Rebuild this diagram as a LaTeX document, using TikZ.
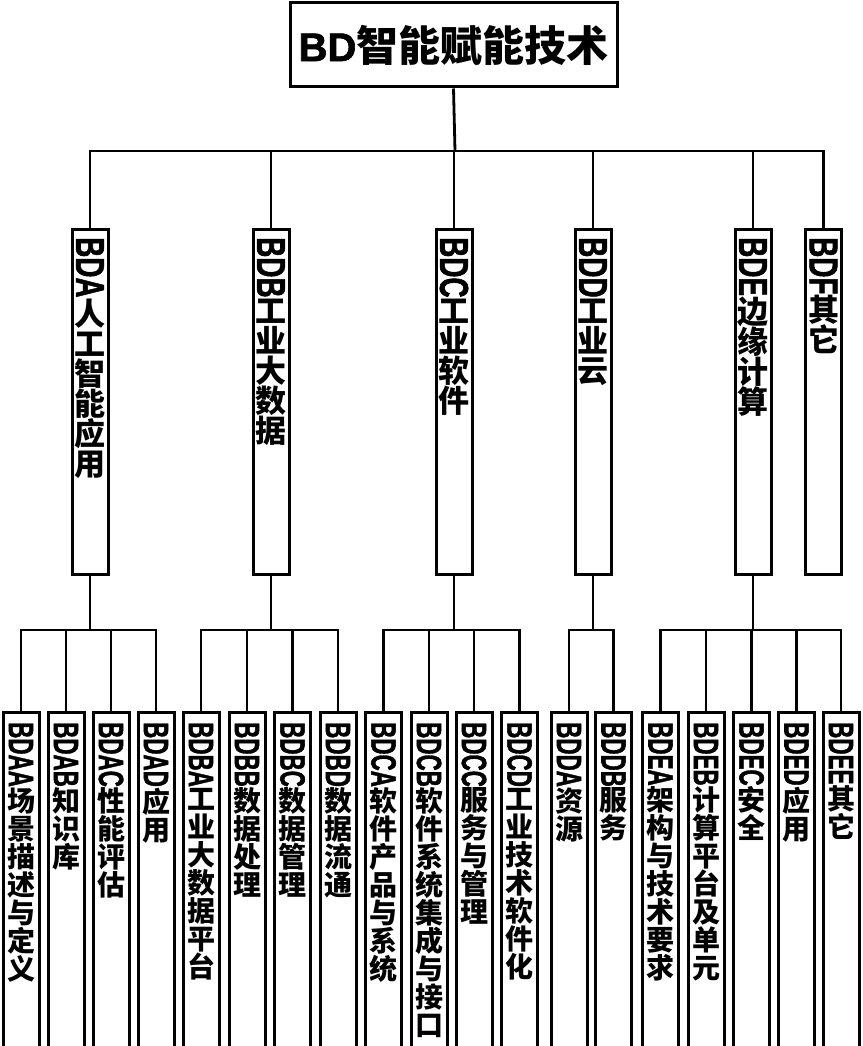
\documentclass[tikz,border=0pt]{standalone}
\usepackage{fontspec}
\setmainfont{Liberation Sans}[BoldFeatures={FakeBold=1.6}]
\newfontfamily\cjkfont{Noto Sans CJK SC}
\usepackage{graphicx}
\usetikzlibrary{positioning}
\tikzset{
  topbox/.style={
    draw, line width=3pt, minimum width=327pt, minimum height=84pt,
    inner sep=0pt, font=\cjkfont\bfseries\fontsize{42}{42}\selectfont
  },
  mainbox/.style={
    draw, line width=3pt, anchor=north, fill=white,
    minimum width=36pt, minimum height=345pt, inner sep=0pt
  },
  subbox/.style={
    draw, line width=3pt, anchor=north, fill=white,
    minimum width=36pt, minimum height=350pt, inner sep=0pt
  },
  mainlabel/.style={
    align=center, inner sep=0pt,
    font=\cjkfont\bfseries\fontsize{31}{30}\selectfont
  },
  sublabel/.style={
    align=center, inner sep=0pt,
    font=\cjkfont\bfseries\fontsize{28}{28}\selectfont
  },
  branch/.style={line width=2.8pt},
}
% vertical labels: latin code turned, chinese stacked upright
\newcommand\mainlab[2]{\rotatebox{-90}{\scalebox{0.9}[1.3]{\rmfamily\bfseries #1}}\\#2}
\newcommand\sublab[2]{\rotatebox{-90}{\scalebox{0.8}[1.25]{\rmfamily\bfseries #1}}\\#2}

\begin{document}
\begin{tikzpicture}[x=1pt, y=-1pt]
  \useasboundingbox (0,0) rectangle (862,1046);
  \clip (0,0) rectangle (862,1046);

  % Root
  \node[topbox] (title) at (453.5,45)
    {{\rmfamily\fontsize{40}{40}\selectfont BD}智能赋能技术};

  % Second level
  \node[mainbox] (bda) at (90,228) {};
  \node[mainbox] (bdb) at (271,228) {};
  \node[mainbox] (bdc) at (454,228) {};
  \node[mainbox] (bdd) at (593,228) {};
  \node[mainbox] (bde) at (753,228) {};
  \node[mainbox] (bdf) at (823.5,228) {};

  \node[mainlabel, below=9pt of bda.north] (bdatext)
    {\mainlab{BDA}{人\\工\\智\\能\\应\\用}};
  \node[mainlabel, below=9pt of bdb.north] (bdbtext)
    {\mainlab{BDB}{工\\业\\大\\数\\据}};
  \node[mainlabel, below=9pt of bdc.north] (bdctext)
    {\mainlab{BDC}{工\\业\\软\\件}};
  \node[mainlabel, below=9pt of bdd.north] (bddtext)
    {\mainlab{BDD}{工\\业\\云}};
  \node[mainlabel, below=9pt of bde.north] (bdetext)
    {\mainlab{BDE}{边\\缘\\计\\算}};
  \node[mainlabel, below=9pt of bdf.north] (bdftext)
    {\mainlab{BDF}{其\\它}};

  % Third level
  \node[subbox] (bdaa) at (21,711) {};
  \node[subbox] (bdab) at (66,711) {};
  \node[subbox] (bdac) at (111,711) {};
  \node[subbox] (bdad) at (156,711) {};
  \node[subbox] (bdba) at (201,711) {};
  \node[subbox] (bdbb) at (247,711) {};
  \node[subbox] (bdbc) at (292.5,711) {};
  \node[subbox] (bdbd) at (338,711) {};
  \node[subbox] (bdca) at (383.5,711) {};
  \node[subbox] (bdcb) at (429,711) {};
  \node[subbox] (bdcc) at (474,711) {};
  \node[subbox] (bdcd) at (519.5,711) {};
  \node[subbox] (bdda) at (569,711) {};
  \node[subbox] (bddb) at (613.5,711) {};
  \node[subbox] (bdea) at (660.5,711) {};
  \node[subbox] (bdeb) at (706,711) {};
  \node[subbox] (bdec) at (751.5,711) {};
  \node[subbox] (bded) at (796.5,711) {};
  \node[subbox] (bdee) at (841,711) {};

  \node[sublabel, below=11pt of bdaa.north] (bdaatext)
    {\sublab{BDAA}{场\\景\\描\\述\\与\\定\\义}};
  \node[sublabel, below=11pt of bdab.north] (bdabtext)
    {\sublab{BDAB}{知\\识\\库}};
  \node[sublabel, below=11pt of bdac.north] (bdactext)
    {\sublab{BDAC}{性\\能\\评\\估}};
  \node[sublabel, below=11pt of bdad.north] (bdadtext)
    {\sublab{BDAD}{应\\用}};
  \node[sublabel, below=11pt of bdba.north] (bdbatext)
    {\sublab{BDBA}{工\\业\\大\\数\\据\\平\\台}};
  \node[sublabel, below=11pt of bdbb.north] (bdbbtext)
    {\sublab{BDBB}{数\\据\\处\\理}};
  \node[sublabel, below=11pt of bdbc.north] (bdbctext)
    {\sublab{BDBC}{数\\据\\管\\理}};
  \node[sublabel, below=11pt of bdbd.north] (bdbdtext)
    {\sublab{BDBD}{数\\据\\流\\通}};
  \node[sublabel, below=11pt of bdca.north] (bdcatext)
    {\sublab{BDCA}{软\\件\\产\\品\\与\\系\\统}};
  \node[sublabel, below=11pt of bdcb.north] (bdcbtext)
    {\sublab{BDCB}{软\\件\\系\\统\\集\\成\\与\\接\\口}};
  \node[sublabel, below=11pt of bdcc.north] (bdcctext)
    {\sublab{BDCC}{服\\务\\与\\管\\理}};
  \node[sublabel, below=11pt of bdcd.north] (bdcdtext)
    {\sublab{BDCD}{工\\业\\技\\术\\软\\件\\化}};
  \node[sublabel, below=11pt of bdda.north] (bddatext)
    {\sublab{BDDA}{资\\源}};
  \node[sublabel, below=11pt of bddb.north] (bddbtext)
    {\sublab{BDDB}{服\\务}};
  \node[sublabel, below=11pt of bdea.north] (bdeatext)
    {\sublab{BDEA}{架\\构\\与\\技\\术\\要\\求}};
  \node[sublabel, below=11pt of bdeb.north] (bdebtext)
    {\sublab{BDEB}{计\\算\\平\\台\\及\\单\\元}};
  \node[sublabel, below=11pt of bdec.north] (bdectext)
    {\sublab{BDEC}{安\\全}};
  \node[sublabel, below=11pt of bded.north] (bdedtext)
    {\sublab{BDED}{应\\用}};
  \node[sublabel, below=11pt of bdee.north] (bdeetext)
    {\sublab{BDEE}{其\\它}};

  % Bus points
  \coordinate (topbus) at (455,151);
  \coordinate (busa) at (90,630);
  \coordinate (busb) at (271,630);
  \coordinate (busc) at (454,630);
  \coordinate (busd) at (593,630);
  \coordinate (buse) at (753,630);

  % Connectors
  \draw[branch] (title.south) -- (topbus);
  \draw[branch] (topbus) -| (bda.north) (topbus) -| (bdb.north)
    (topbus) -| (bdc.north) (topbus) -| (bdd.north)
    (topbus) -| (bde.north) (topbus) -| (bdf.north);

  \draw[branch] (bda.south) -- (busa);
  \draw[branch] (busa) -| (bdaa.north) (busa) -| (bdab.north)
    (busa) -| (bdac.north) (busa) -| (bdad.north);
  \draw[branch] (bdb.south) -- (busb);
  \draw[branch] (busb) -| (bdba.north) (busb) -| (bdbb.north)
    (busb) -| (bdbc.north) (busb) -| (bdbd.north);
  \draw[branch] (bdc.south) -- (busc);
  \draw[branch] (busc) -| (bdca.north) (busc) -| (bdcb.north)
    (busc) -| (bdcc.north) (busc) -| (bdcd.north);
  \draw[branch] (bdd.south) -- (busd);
  \draw[branch] (busd) -| (bdda.north) (busd) -| (bddb.north);
  \draw[branch] (bde.south) -- (buse);
  \draw[branch] (buse) -| (bdea.north) (buse) -| (bdeb.north)
    (buse) -| (bdec.north) (buse) -| (bded.north) (buse) -| (bdee.north);
\end{tikzpicture}
\end{document}
